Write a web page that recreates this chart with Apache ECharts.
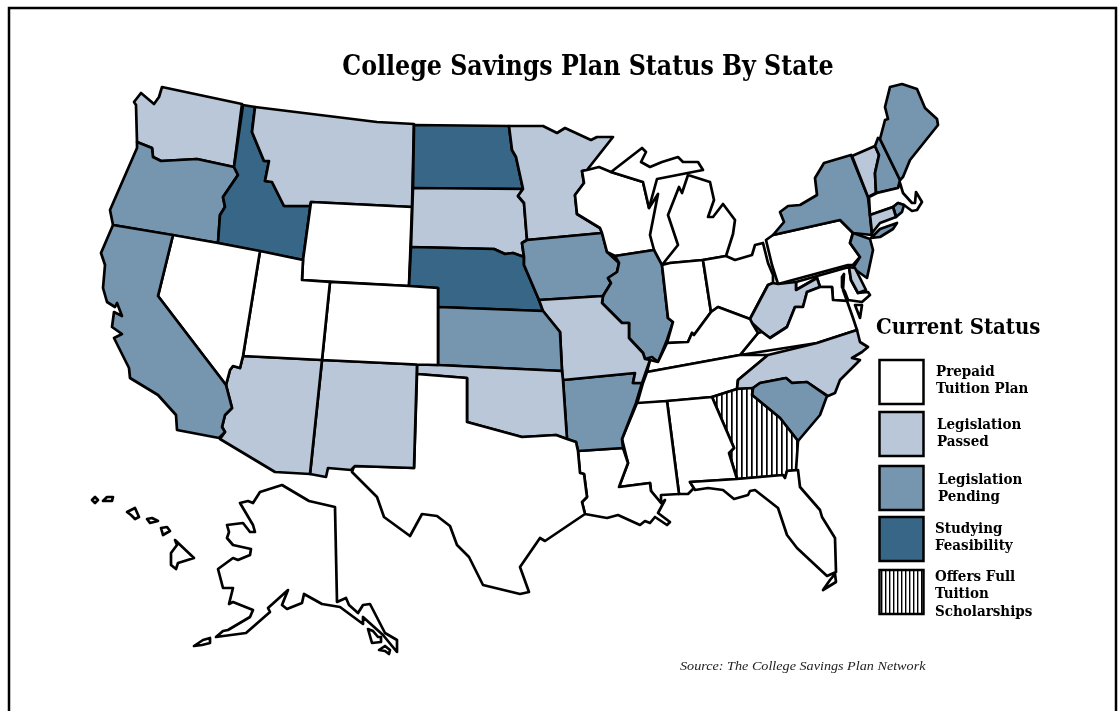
<!DOCTYPE html>
<html><head><meta charset="utf-8">
<style>html,body{margin:0;padding:0;background:#fff}#c{width:1120px;height:711px}</style>
<script src="https://cdn.jsdelivr.net/npm/echarts@6/dist/echarts.min.js"></script>
</head><body><div id="c"></div>
<script>
const titleText = 'College Savings Plan Status By State';
const legendTitle = 'Current Status';
const sourceText = 'Source: The College Savings Plan Network';
const statusNames = ['Prepaid\nTuition Plan','Legislation\nPassed','Legislation\nPending','Studying\nFeasibility','Offers Full\nTuition\nScholarships'];
const prepaidStates = ['NV','UT','WY','CO','TX','LA','MS','AL','FL','TN','KY','IN','OH','MI','WI','PA','MD','VA','MA','AK','HI'];
const passedStates = ['WA','MT','AZ','NM','SD','MN','OK','MO','WV','NC','VT','CT','DE'];
const pendingStates = ['OR','CA','KS','IA','IL','AR','SC','NY','NH','ME','NJ','RI'];
const studyingStates = ['ID','ND','NE'];
const scholarshipStates = ['GA'];
const statusGroups = [prepaidStates, passedStates, pendingStates, studyingStates, scholarshipStates];

// State outlines (outline asset of the custom map, in picture units)
const outlines = {
WA:[[[162,87],[242,104],[234,167],[197,159],[161,161],[153,157],[152,148],[137,142],[136,105],[134,102],[141,93],[154,104],[159,97]]],
OR:[[[137,142],[152,148],[153,157],[161,161],[197,159],[234,167],[238,175],[223,197],[225,207],[220,215],[218,243],[113,225],[110,210],[137,148]]],
ID:[[[243,105],[255,107],[252,132],[264,161],[269,161],[265,181],[272,182],[284,206],[310,206],[311,202],[303,260],[218,243],[220,215],[225,207],[223,197],[238,175],[234,167]]],
MT:[[[255,107],[377,122],[414,124],[412,207],[311,202],[310,206],[284,206],[272,182],[265,181],[269,161],[264,161],[252,132]]],
WY:[[[311,202],[412,207],[409,286],[302,280],[303,260]]],
ND:[[[414,125],[509,126],[512,150],[516,157],[523,189],[413,188]]],
SD:[[[413,188],[523,189],[518,196],[524,203],[527,240],[522,243],[524,257],[513,253],[505,254],[494,249],[411,247]]],
NE:[[[411,247],[494,249],[505,254],[513,253],[524,257],[524,265],[539,300],[543,311],[438,307],[438,288],[409,286]]],
MN:[[[509,126],[543,126],[557,133],[565,128],[591,140],[597,137],[613,137],[587,170],[582,171],[584,183],[575,195],[577,214],[600,228],[602,233],[527,240],[524,203],[518,196],[523,189],[516,157],[512,150]]],
IA:[[[522,243],[527,240],[602,233],[607,252],[619,263],[617,272],[608,278],[611,283],[603,296],[539,300],[524,265],[524,257]]],
WI:[[[582,171],[587,170],[599,167],[611,172],[643,182],[649,208],[658,194],[650,235],[654,250],[615,256],[607,252],[602,233],[600,228],[577,214],[575,195],[584,183]]],
MI:[[[611,172],[642,148],[646,152],[641,162],[650,167],[662,162],[678,157],[683,162],[698,162],[703,170],[657,179],[649,208],[643,182]],
    [[688,175],[710,182],[714,200],[708,217],[713,217],[723,204],[735,220],[733,234],[726,256],[703,260],[670,263],[662,265],[678,245],[668,215],[679,187],[682,193]]],
IL:[[[615,256],[654,250],[662,265],[668,318],[673,322],[667,340],[658,362],[652,357],[645,359],[643,353],[629,338],[629,323],[622,323],[602,303],[603,296],[611,283],[608,278],[617,272],[619,263]]],
IN:[[[662,265],[670,263],[703,260],[711,312],[694,335],[692,333],[688,342],[667,343],[673,322],[668,318]]],
OH:[[[703,260],[726,256],[735,260],[752,255],[755,245],[763,243],[768,263],[773,275],[773,283],[768,285],[750,319],[718,307],[711,312]]],
PA:[[[766,240],[773,235],[840,220],[853,233],[850,243],[860,257],[853,265],[848,265],[778,284],[772,265]]],
NY:[[[773,235],[784,222],[780,212],[788,206],[800,205],[817,195],[815,178],[824,163],[851,155],[868,197],[870,215],[872,235],[853,233],[840,220]],
    [[871,238],[880,229],[897,223],[893,229],[880,237]]],
NJ:[[[853,233],[870,239],[873,250],[867,278],[853,268],[860,257],[850,243]]],
VT:[[[852,156],[875,146],[879,155],[875,173],[876,193],[868,197]]],
NH:[[[878,138],[880,139],[900,180],[898,188],[876,193],[875,173],[879,155],[875,146]]],
ME:[[[880,139],[885,120],[888,119],[885,107],[890,87],[902,84],[917,89],[925,108],[937,119],[938,125],[910,160],[903,177],[900,180]]],
MA:[[[869,197],[877,193],[898,188],[900,183],[903,193],[912,203],[915,203],[916,192],[922,202],[917,210],[912,211],[904,205],[898,203],[893,207],[870,215]]],
RI:[[[893,207],[898,203],[904,205],[902,212],[896,217]]],
CT:[[[870,215],[893,207],[896,217],[880,223],[872,233]]],
MD:[[[796,282],[849,267],[851,280],[858,293],[868,292],[870,295],[862,302],[848,300],[845,292],[842,287],[842,277],[844,274],[843,290],[847,301],[833,300],[832,287],[820,287],[817,278],[796,290]]],
DE:[[[849,267],[855,268],[866,290],[858,293],[851,280]]],
WV:[[[768,285],[773,283],[778,284],[796,282],[796,290],[817,278],[820,287],[807,292],[803,307],[795,307],[787,327],[770,338],[762,332],[752,323],[750,319]]],
VA:[[[740,355],[758,333],[762,332],[770,338],[787,327],[795,307],[803,307],[807,292],[820,287],[832,287],[833,300],[847,301],[853,318],[857,330],[817,343]],
    [[855,305],[862,305],[860,318]]],
KY:[[[647,372],[650,360],[658,362],[667,343],[688,342],[692,333],[694,335],[711,312],[718,307],[750,319],[752,323],[758,333],[740,355]]],
TN:[[[637,404],[712,397],[737,389],[738,380],[768,355],[740,355],[647,372],[643,383]]],
NC:[[[857,330],[860,342],[868,347],[862,352],[852,358],[860,360],[848,372],[840,380],[835,393],[828,396],[807,382],[792,383],[786,378],[760,383],[753,388],[737,389],[738,380],[768,355],[817,343]]],
SC:[[[753,388],[760,383],[786,378],[792,383],[807,382],[827,396],[820,415],[798,441],[780,418],[752,395]]],
GA:[[[712,397],[737,389],[753,388],[752,395],[780,418],[798,441],[796,470],[787,471],[785,478],[783,475],[737,479],[729,453],[734,448]]],
AL:[[[667,401],[712,397],[734,448],[729,453],[737,479],[690,482],[694,488],[688,494],[679,494]]],
MS:[[[637,403],[667,401],[679,494],[661,495],[661,503],[651,491],[650,483],[619,487],[628,463],[622,439]]],
LA:[[[578,451],[623,448],[628,463],[619,487],[650,483],[651,491],[661,503],[665,500],[658,513],[670,522],[667,525],[655,517],[650,523],[645,521],[640,525],[618,515],[607,518],[585,514],[582,502],[587,497],[584,474],[580,473]]],
AR:[[[563,380],[635,373],[633,383],[642,383],[636,403],[622,439],[623,448],[578,451],[576,442],[567,439]]],
MO:[[[539,300],[603,296],[602,303],[622,323],[629,323],[629,338],[643,353],[645,359],[650,360],[642,383],[633,383],[635,373],[563,380],[562,371],[560,332],[543,311]]],
KS:[[[438,307],[543,311],[560,332],[562,371],[438,365]]],
OK:[[[417,364.5],[438,365],[562,371],[563,380],[567,439],[556,435],[522,437],[467,422],[467,378],[417,374]]],
TX:[[[417,374],[467,378],[467,422],[522,437],[556,435],[567,439],[576,442],[578,451],[580,473],[584,474],[587,497],[582,502],[585,514],[545,541],[540,538],[520,567],[529,592],[520,594],[483,585],[469,557],[457,545],[450,526],[437,516],[422,514],[410,536],[384,517],[377,497],[352,472],[354,466],[414,468]]],
NM:[[[322,360],[417,364.5],[414,468],[355,466],[351,470],[328,468],[326,477],[310,474]]],
AZ:[[[243,356],[322,360],[310,474],[275,472],[220,439],[225,432],[222,427],[225,415],[232,408],[226,385],[230,370],[233,366],[240,368]]],
CO:[[[330,282],[409,286],[438,288],[438,365],[417,364.5],[322,360]]],
UT:[[[260,251],[303,260],[302,280],[330,282],[322,360],[243,356]]],
NV:[[[173,235],[218,243],[260,251],[243,356],[240,368],[233,366],[230,370],[226,385],[158,296]]],
CA:[[[113,225],[173,235],[158,296],[226,385],[232,408],[225,415],[222,427],[225,432],[219,438],[177,430],[176,415],[158,395],[130,378],[129,368],[114,338],[122,334],[112,327],[114,312],[122,316],[117,303],[115,307],[107,302],[103,288],[105,265],[101,253]]],
FL:[[[690,482],[737,479],[783,475],[785,478],[787,471],[798,470],[800,487],[820,510],[822,517],[835,538],[836,572],[827,576],[797,548],[787,535],[778,508],[755,490],[750,491],[748,495],[734,499],[723,490],[708,488],[695,490]],
    [[835,574],[836,582],[823,590],[830,580]]],
AK:[[[282,485],[309,501],[335,507],[337,602],[346,598],[349,605],[358,613],[363,605],[370,604],[385,633],[397,640],[397,652],[383,635],[363,617],[363,624],[340,607],[322,604],[304,594],[302,603],[287,609],[282,605],[288,590],[268,608],[270,612],[246,633],[216,637],[223,631],[228,630],[250,617],[253,610],[233,602],[229,604],[233,588],[223,588],[218,569],[233,558],[238,560],[250,555],[251,549],[233,545],[227,538],[229,532],[227,525],[243,523],[250,532],[255,532],[253,525],[240,503],[248,501],[253,503],[260,492]],
    [[368,629],[373,631],[378,637],[381,637],[381,642],[372,643]],[[379,650],[385,646],[390,650],[389,654],[385,651]],[[194,646],[203,640],[210,638],[210,643],[202,645]]],
HI:[[[92,500],[95,497],[98,500],[95,503]],[[103,501],[107,497],[113,497],[112,501]],[[127,512],[135,508],[139,517],[135,519],[131,515]],[[147,519],[152,518],[158,521],[150,523]],[[161,528],[167,527],[170,531],[163,535]],[[175,540],[194,558],[178,563],[176,569],[171,565],[171,553],[177,545]]]
};

const W = 1120, H = 711;
const geoJson = {type:'FeatureCollection', features:Object.keys(outlines).map(k => ({
  type:'Feature', properties:{name:k},
  geometry:{type:'MultiPolygon', coordinates:outlines[k].map(r => {
    const ring = r.map(p => [p[0], H - p[1]]); ring.push(ring[0]); return [ring];
  })}
}))};
echarts.registerMap('usa', geoJson);

function hatch(period, line){
  const c = document.createElement('canvas'); c.width = period; c.height = period;
  const g = c.getContext('2d');
  g.fillStyle = '#fff'; g.fillRect(0,0,period,period);
  g.fillStyle = '#000'; g.fillRect(1,0,line,period);
  return {image:c, repeat:'repeat'};
}
const statusFills = ['#ffffff','#B9C7D8','#7695AE','#376686',hatch(5,1.7)];
const legendFills = statusFills.slice(0,4).concat([hatch(4,1.4)]);
const mapData = [];
statusGroups.forEach((g,i) => g.forEach(s => mapData.push({name:s, itemStyle:{areaColor:statusFills[i]}})));

const serif = '"DejaVu Serif Condensed","DejaVu Serif",serif';
const italicSerif = '"Liberation Serif",serif';
const boxTops = [360,412,466,517,570];
const labelPos = [[936,363],[937,416],[938,471],[935,520],[935,568]];
const graphics = [
  {type:'rect', shape:{x:9,y:8,width:1107,height:720}, style:{fill:'none',stroke:'#000',lineWidth:2.5}, z:0},
  {type:'text', x:588, y:68, scaleX:0.942, style:{text:titleText, fill:'#000', font:'bold 28px '+serif, textAlign:'center', textVerticalAlign:'middle'}},
  {type:'text', x:876, y:317, scaleX:0.953, style:{text:legendTitle, fill:'#000', font:'bold 23px '+serif}}
];
statusNames.forEach((n,i) => {
  graphics.push({type:'rect', shape:{x:879.5,y:boxTops[i],width:44,height:44}, style:{fill:legendFills[i],stroke:'#000',lineWidth:2.5}});
  graphics.push({type:'text', x:labelPos[i][0], y:labelPos[i][1], style:{text:n, fill:'#000', font:'bold 15px '+serif, lineHeight:17.6}});
});
graphics.push({type:'text', x:680, y:660, scaleX:1.09, style:{text:sourceText, fill:'#222', font:'italic 13px '+italicSerif}});

const chart = echarts.init(document.getElementById('c'), null, {renderer:'canvas'});
chart.setOption({
  animation:false,
  backgroundColor:'#fff',
  series:[{
    type:'map', map:'usa', roam:false, silent:true,
    left:0, top:0, width:W, height:H, aspectScale:1,
    boundingCoords:[[0,H],[W,0]],
    label:{show:false},
    itemStyle:{areaColor:'#fff', borderColor:'#000', borderWidth:2.7, borderJoin:'round'},
    emphasis:{disabled:true},
    select:{disabled:true},
    data:mapData
  }],
  graphic:graphics
});
</script></body></html>
